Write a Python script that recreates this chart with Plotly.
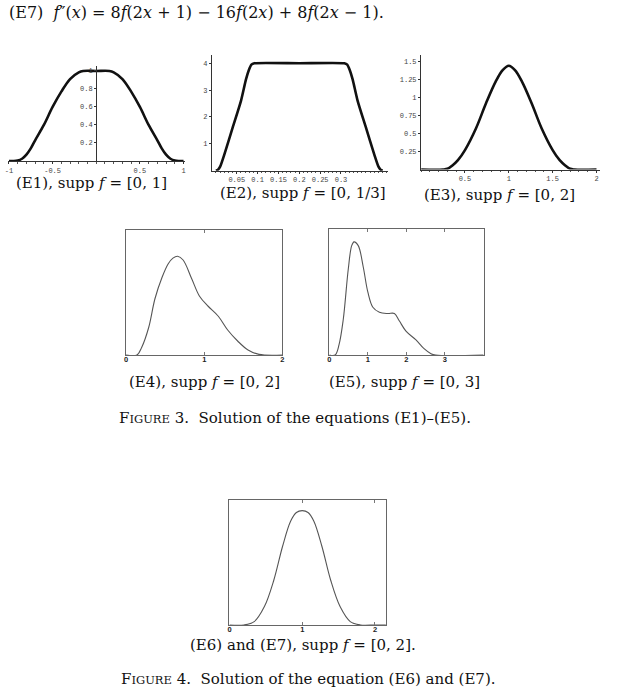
import plotly.graph_objects as go

W, H = 625, 698
def fx(px): return px / W
def fy(py): return 1 - py / H

# ---------------- data ----------------
e1_x = [-1.0, -0.95, -0.9, -0.85, -0.8, -0.75, -0.7, -0.6, -0.5, -0.4, -0.3, -0.2, -0.15,
        0.0, 0.15, 0.2, 0.3, 0.4, 0.5, 0.6, 0.7, 0.75, 0.8, 0.85, 0.9, 0.95, 1.0]
e1_y = [0.0, 0.0, 0.005, 0.025, 0.07, 0.14, 0.23, 0.40, 0.60, 0.77, 0.91, 0.985, 1.0,
        1.0, 1.0, 0.985, 0.91, 0.77, 0.60, 0.40, 0.23, 0.14, 0.07, 0.025, 0.005, 0.0, 0.0]

e2_x = [0.0, 0.005, 0.01, 0.02, 0.04, 0.06, 0.072, 0.079, 0.085, 0.092, 0.2,
        0.308, 0.315, 0.321, 0.328, 0.34, 0.36, 0.38, 0.39, 0.395, 0.4]
e2_y = [0.0, 0.04, 0.15, 0.6, 1.6, 2.6, 3.4, 3.75, 3.95, 4.0, 4.0,
        4.0, 3.95, 3.75, 3.4, 2.6, 1.6, 0.6, 0.15, 0.04, 0.0]

e3_x = [0.0, 0.25, 0.3, 0.36, 0.42, 0.5, 0.625, 0.74, 0.85, 0.93, 1.0,
        1.07, 1.15, 1.26, 1.375, 1.5, 1.58, 1.64, 1.7, 1.75, 2.0]
e3_y = [0.0, 0.0, 0.01, 0.06, 0.13, 0.27, 0.57, 0.92, 1.22, 1.38, 1.44,
        1.38, 1.22, 0.92, 0.57, 0.27, 0.13, 0.06, 0.01, 0.0, 0.0]

e4_x = [0.0, 0.14, 0.2, 0.29, 0.37, 0.46, 0.54, 0.6, 0.66, 0.73, 0.84, 0.94,
        1.05, 1.18, 1.3, 1.43, 1.56, 1.7, 2.0]
e4_y = [0.0, 0.0, 0.06, 0.22, 0.45, 0.62, 0.73, 0.775, 0.79, 0.76, 0.61, 0.47,
        0.39, 0.31, 0.2, 0.11, 0.04, 0.005, 0.0]

e5_x = [0.0, 0.15, 0.25, 0.36, 0.49, 0.58, 0.64, 0.75, 0.88, 1.0, 1.13, 1.3,
        1.52, 1.69, 1.82, 1.99, 2.25, 2.46, 2.64, 2.76, 4.0]
e5_y = [0.0, 0.0, 0.08, 0.28, 0.68, 0.87, 0.90, 0.87, 0.70, 0.50, 0.38, 0.34,
        0.33, 0.33, 0.27, 0.19, 0.12, 0.05, 0.01, 0.0, 0.0]

e6_x = [0.0, 0.2, 0.34, 0.48, 0.61, 0.73, 0.84, 0.92, 1.0, 1.08, 1.16, 1.27,
        1.39, 1.52, 1.66, 1.8, 2.0, 2.15]
e6_y = [0.0, 0.0, 0.027, 0.147, 0.36, 0.63, 0.83, 0.9, 0.915, 0.9, 0.83, 0.63,
        0.36, 0.147, 0.027, 0.0, 0.0, 0.0]

e1_xt = [-1, -0.5, 0.5, 1]
e1_yt = [0.2, 0.4, 0.6, 0.8, 1]
e2_xt = [0.05, 0.1, 0.15, 0.2, 0.25, 0.3]
e2_yt = [1, 2, 3, 4]
e3_xt = [0.5, 1, 1.5, 2]
e3_yt = [0.25, 0.5, 0.75, 1, 1.25, 1.5]
e4_xt = [0, 1, 2]
e5_xt = [0, 1, 2, 3]
e6_xt = [0, 1, 2]

# ---------------- figure ----------------
fig = go.Figure()
thick = dict(color="#111111", width=2.6)
thin = dict(color="#555555", width=1.1)
fig.add_trace(go.Scatter(x=e1_x, y=e1_y, mode="lines", line=dict(thick, shape="spline"), xaxis="x", yaxis="y"))
fig.add_trace(go.Scatter(x=e2_x, y=e2_y, mode="lines", line=dict(thick, shape="spline", smoothing=0.6), xaxis="x2", yaxis="y2"))
fig.add_trace(go.Scatter(x=e3_x, y=e3_y, mode="lines", line=dict(thick, shape="spline"), xaxis="x3", yaxis="y3"))
fig.add_trace(go.Scatter(x=e4_x, y=e4_y, mode="lines", line=dict(thin, shape="spline"), xaxis="x4", yaxis="y4"))
fig.add_trace(go.Scatter(x=e5_x, y=e5_y, mode="lines", line=dict(thin, shape="spline"), xaxis="x5", yaxis="y5"))
fig.add_trace(go.Scatter(x=e6_x, y=e6_y, mode="lines", line=dict(thin, shape="spline"), xaxis="x6", yaxis="y6"))

tickfont = dict(family="Liberation Mono", size=7, color="#444444")
boxfont = dict(family="Liberation Sans", size=7.5, color="#222222")

def math_axis(domain, rng, tv, **kw):
    d = dict(domain=domain, range=rng, tickvals=tv, ticktext=[str(v) for v in tv],
             showline=True, linecolor="#333333", linewidth=1.3, ticks="outside",
             ticklen=2, tickcolor="#333333", tickfont=tickfont, showgrid=False,
             zeroline=False, fixedrange=True)
    d.update(kw)
    return d

def box_axis(domain, rng, tv=None, **kw):
    d = dict(domain=domain, range=rng, showline=True, mirror="allticks",
             linecolor="#666666", linewidth=1.2, ticks="inside", ticklen=3,
             tickcolor="#777777", showgrid=False, zeroline=False, fixedrange=True)
    if tv is None:
        d.update(tickvals=[], showticklabels=False)
    else:
        d.update(tickvals=tv, ticktext=["<b>%s</b>" % v for v in tv], tickfont=boxfont,
                 ticklabelstandoff=-3)
    d.update(kw)
    return d

minor_x = dict(ticks="outside", ticklen=1.5, tickcolor="#555555")

fig.update_layout(
    width=W, height=H, margin=dict(l=0, r=0, t=0, b=0),
    paper_bgcolor="white", plot_bgcolor="rgba(0,0,0,0)", showlegend=False,
    xaxis=math_axis([fx(5), fx(183)], [-1.0114, 1.0114], e1_xt, anchor="y",
                    ticktext=["-1", "-0.5", "0.5", "1"], minor=dict(minor_x, dtick=0.1)),
    yaxis=math_axis([fy(161), fy(66)], [0, 1.055], e1_yt, anchor="free", position=fx(94)),
    xaxis2=math_axis([fx(210.7), fx(388)], [-0.0095, 0.4126], e2_xt, anchor="y2",
                     minor=dict(minor_x, dtick=0.01)),
    yaxis2=math_axis([fy(170.7), fy(55.2)], [0, 4.3], e2_yt, anchor="x2"),
    xaxis3=math_axis([fx(421.5), fx(602)], [0, 2.042], e3_xt, anchor="y3",
                     minor=dict(minor_x, dtick=0.1)),
    yaxis3=math_axis([fy(169.5), fy(55)], [0, 1.59], e3_yt, anchor="x3"),
    xaxis4=box_axis([fx(124), fx(281.7)], [0, 2], e4_xt, anchor="y4"),
    yaxis4=box_axis([fy(355), fy(230)], [0, 1], None, anchor="x4"),
    xaxis5=box_axis([fx(329), fx(485)], [0, 4.02], e5_xt, anchor="y5"),
    yaxis5=box_axis([fy(355), fy(229.3)], [0, 1], None, anchor="x5"),
    xaxis6=box_axis([fx(228.3), fx(386)], [0, 2.15], e6_xt, anchor="y6"),
    yaxis6=box_axis([fy(625), fy(500)], [0, 1], None, anchor="x6"),
)

serif = "DejaVu Serif"
def txt(s, px, py, size=15, xanchor="center"):
    fig.add_annotation(text=s, x=fx(px), y=fy(py), xref="paper", yref="paper",
                       xanchor=xanchor, yanchor="middle", showarrow=False,
                       font=dict(family=serif, size=size, color="#111111"))

f = "<i>f</i>"
x = "<i>x</i>"
txt("(E7)  %s″(%s) = 8%s(2%s + 1) − 16%s(2%s) + 8%s(2%s − 1)." % (f, x, f, x, f, x, f, x),
    4, 13, size=16, xanchor="left")
txt("(E1), supp %s = [0, 1]" % f, 89, 183)
txt("(E2), supp %s = [0, 1/3]" % f, 302, 193)
txt("(E3), supp %s = [0, 2]" % f, 501, 195)
txt("(E4), supp %s = [0, 2]" % f, 203, 382)
txt("(E5), supp %s = [0, 3]" % f, 405, 382)
txt("F<span style='font-size:11.5px'>IGURE</span> 3.  Solution of the equations (E1)–(E5).", 294, 418)
txt("(E6) and (E7), supp %s = [0, 2]." % f, 302, 645)
txt("F<span style='font-size:11.5px'>IGURE</span> 4.  Solution of the equation (E6) and (E7).", 308, 679)

fig.write_html("out.html")
